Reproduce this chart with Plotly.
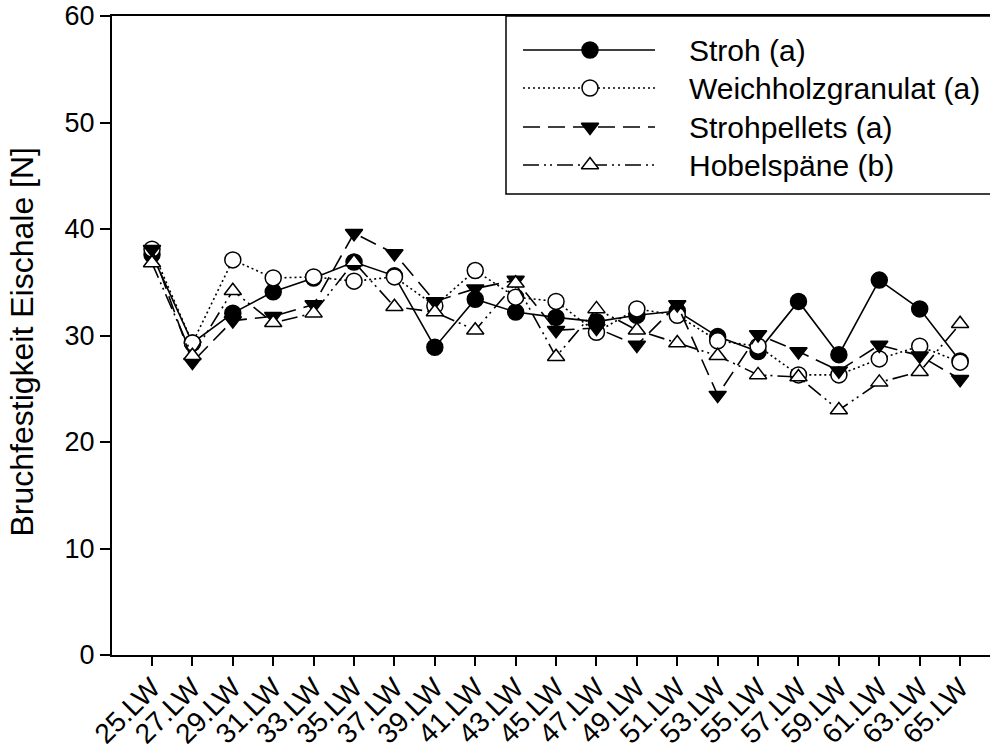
import plotly.graph_objects as go

# Lay weeks (Legewochen)
weeks = ["25.LW", "27.LW", "29.LW", "31.LW", "33.LW", "35.LW", "37.LW",
         "39.LW", "41.LW", "43.LW", "45.LW", "47.LW", "49.LW", "51.LW",
         "53.LW", "55.LW", "57.LW", "59.LW", "61.LW", "63.LW", "65.LW"]

# Eggshell breaking strength [N] per litter material
stroh = [37.6, 29.3, 32.1, 34.1, 35.4, 36.9, 35.6, 28.9, 33.4, 32.2, 31.7,
         31.3, 31.9, 32.3, 29.9, 28.5, 33.2, 28.2, 35.2, 32.5, 27.6]
weichholz = [38.1, 29.3, 37.1, 35.4, 35.5, 35.1, 35.5, 32.8, 36.1, 33.6, 33.2,
             30.3, 32.5, 31.9, 29.5, 29.0, 26.3, 26.3, 27.8, 29.0, 27.5]
strohpellets = [38.1, 27.5, 31.4, 31.8, 32.9, 39.6, 37.7, 33.2, 34.4, 35.2, 30.5,
                30.7, 29.1, 32.9, 24.4, 30.1, 28.5, 26.7, 29.1, 28.1, 25.9]
hobel = [36.8, 28.1, 34.2, 31.2, 32.1, 36.9, 32.7, 32.2, 30.5, 34.9, 28.0,
         32.5, 30.5, 29.3, 28.1, 26.3, 26.1, 23.0, 25.6, 26.6, 31.1]

series_names = ["Stroh (a)", "Weichholzgranulat (a)", "Strohpellets (a)", "Hobelspäne (b)"]
series_values = [stroh, weichholz, strohpellets, hobel]
dashes = ["solid", "2px,3px", "17px,8px", "16px,5px,2px,4px,2px,5px"]
symbols = ["circle", "circle", "triangle-down", "triangle-up"]
fills = ["black", "white", "black", "white"]
sizes = [16, 16, 15, 15]

FONT = "Liberation Sans, Arial, sans-serif"

fig = go.Figure()
idx = list(range(len(weeks)))
for name, vals, dash, sym, fill, sz in zip(series_names, series_values, dashes, symbols, fills, sizes):
    fig.add_trace(go.Scatter(
        x=idx, y=vals, mode="lines+markers", name=name, showlegend=False,
        line=dict(color="black", width=1.6, dash=dash),
        marker=dict(symbol=sym, size=sz, color=fill, line=dict(color="black", width=1.5)),
    ))

# Hand-built legend in pixel-like coordinates on an overlay axis pair
leg_rows = [50, 88, 127, 165]
line_x0, line_x1, mark_x, text_x = 523, 655, 590, 687
for name, dash, sym, fill, sz, yy in zip(series_names, dashes, symbols, fills, sizes, leg_rows):
    fig.add_trace(go.Scatter(
        x=[line_x0, mark_x, line_x1], y=[yy, yy, yy], xaxis="x2", yaxis="y2",
        mode="lines", showlegend=False, hoverinfo="skip",
        line=dict(color="black", width=1.6, dash=dash),
    ))
    fig.add_trace(go.Scatter(
        x=[mark_x], y=[yy], xaxis="x2", yaxis="y2", mode="markers",
        showlegend=False, hoverinfo="skip",
        marker=dict(symbol=sym, size=sz, color=fill, line=dict(color="black", width=1.5)),
    ))
    fig.add_annotation(x=text_x, y=yy, xref="x2", yref="y2", text=name,
                       showarrow=False, xanchor="left", yanchor="middle",
                       font=dict(family=FONT, size=30, color="black"))

fig.add_shape(type="rect", xref="x2", yref="y2", x0=506, x1=1010, y0=16, y1=194,
              line=dict(color="black", width=1.5), fillcolor="rgba(0,0,0,0)", layer="below")

# Y-axis title placed beside the tick labels
fig.add_annotation(x=-0.1036, y=0.4906, xref="paper", yref="paper",
                   text="Bruchfestigkeit Eischale [N]", textangle=-90, showarrow=False,
                   xanchor="center", yanchor="middle",
                   font=dict(family=FONT, size=32, color="black"))

fig.update_layout(
    width=990, height=752,
    margin=dict(l=112, r=0, t=16, b=97),
    plot_bgcolor="white", paper_bgcolor="white",
    font=dict(family=FONT, color="black"),
    xaxis=dict(
        range=[-0.99, 20.74], tickmode="array", tickvals=idx, ticktext=weeks,
        tickangle=-45, tickfont=dict(size=28), ticks="outside", ticklen=9,
        tickwidth=1.5, tickcolor="black", showline=True, linecolor="black",
        linewidth=2, mirror=True, showgrid=False, zeroline=False, automargin=False,
        ticklabelstandoff=-6,
    ),
    yaxis=dict(
        range=[0, 60], tickvals=[0, 10, 20, 30, 40, 50, 60], tickfont=dict(size=27),
        ticks="outside", ticklen=10, tickwidth=1.5, tickcolor="black",
        showline=True, linecolor="black", linewidth=2, showgrid=False, zeroline=False,
        automargin=False,
    ),
    xaxis2=dict(range=[112, 990], overlaying="x", visible=False, fixedrange=True),
    yaxis2=dict(range=[655, 16], overlaying="y", visible=False, fixedrange=True),
)

fig.write_html("out.html")
